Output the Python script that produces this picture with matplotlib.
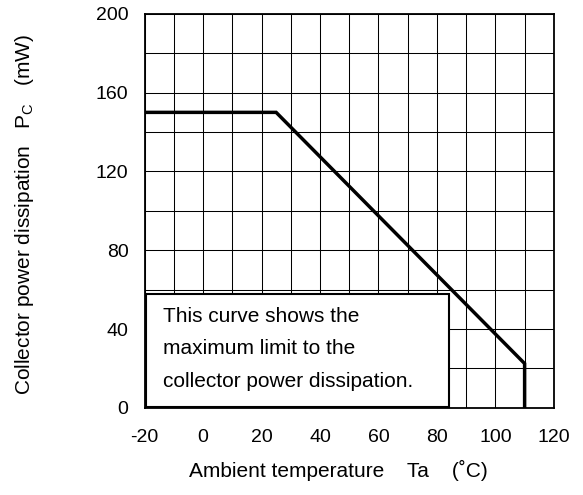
import matplotlib
matplotlib.use("Agg")
import matplotlib.pyplot as plt
from matplotlib.patches import Rectangle

plt.rcParams['font.family'] = ['Liberation Sans', 'DejaVu Sans']
plt.rcParams['axes.unicode_minus'] = False

temp = [-20, 25, 110, 110]
power = [150, 150, 22.5, 0]

xticks = [-20, 0, 20, 40, 60, 80, 100, 120]
yticks = [0, 40, 80, 120, 160, 200]
note = "This curve shows the\nmaximum limit to the\ncollector power dissipation."

fig = plt.figure(figsize=(5.83, 4.95), dpi=100)
ax = fig.add_axes([0.248, 0.176, 0.702, 0.796])
ax.set_xlim(-20, 120)
ax.set_ylim(0, 200)
ax.set_xticks(xticks)
ax.set_yticks(yticks)
ax.set_xticks(range(-20, 121, 10), minor=True)
ax.set_yticks(range(0, 201, 20), minor=True)
ax.grid(which='both', color='black', linewidth=0.75)
ax.set_axisbelow(True)
ax.tick_params(which='both', length=0, labelsize=14)
ax.tick_params(axis='x', pad=15)
ax.tick_params(axis='y', pad=11.5)
for s in ax.spines.values():
    s.set_linewidth(1.3)

box = Rectangle((-19.5, 0.3), 103.6, 57.6, facecolor='white', edgecolor='black', linewidth=1.5, zorder=3)
ax.add_patch(box)
ax.text(-13.7, 30, note, fontsize=15, va='center', ha='left', linespacing=1.9, zorder=4)

ax.plot(temp, power, color='black', linewidth=2.5, zorder=5, solid_joinstyle='miter')

ax.set_xlabel("Ambient temperature    Ta    (˚C)", fontsize=15)
ax.set_ylabel("Collector power dissipation   P$_\\mathregular{C}$   (mW)", fontsize=15)
ax.xaxis.set_label_coords(0.4725, -0.132)
ax.yaxis.set_label_coords(-0.265, 0.49)

fig.savefig("out.png", dpi=100)
